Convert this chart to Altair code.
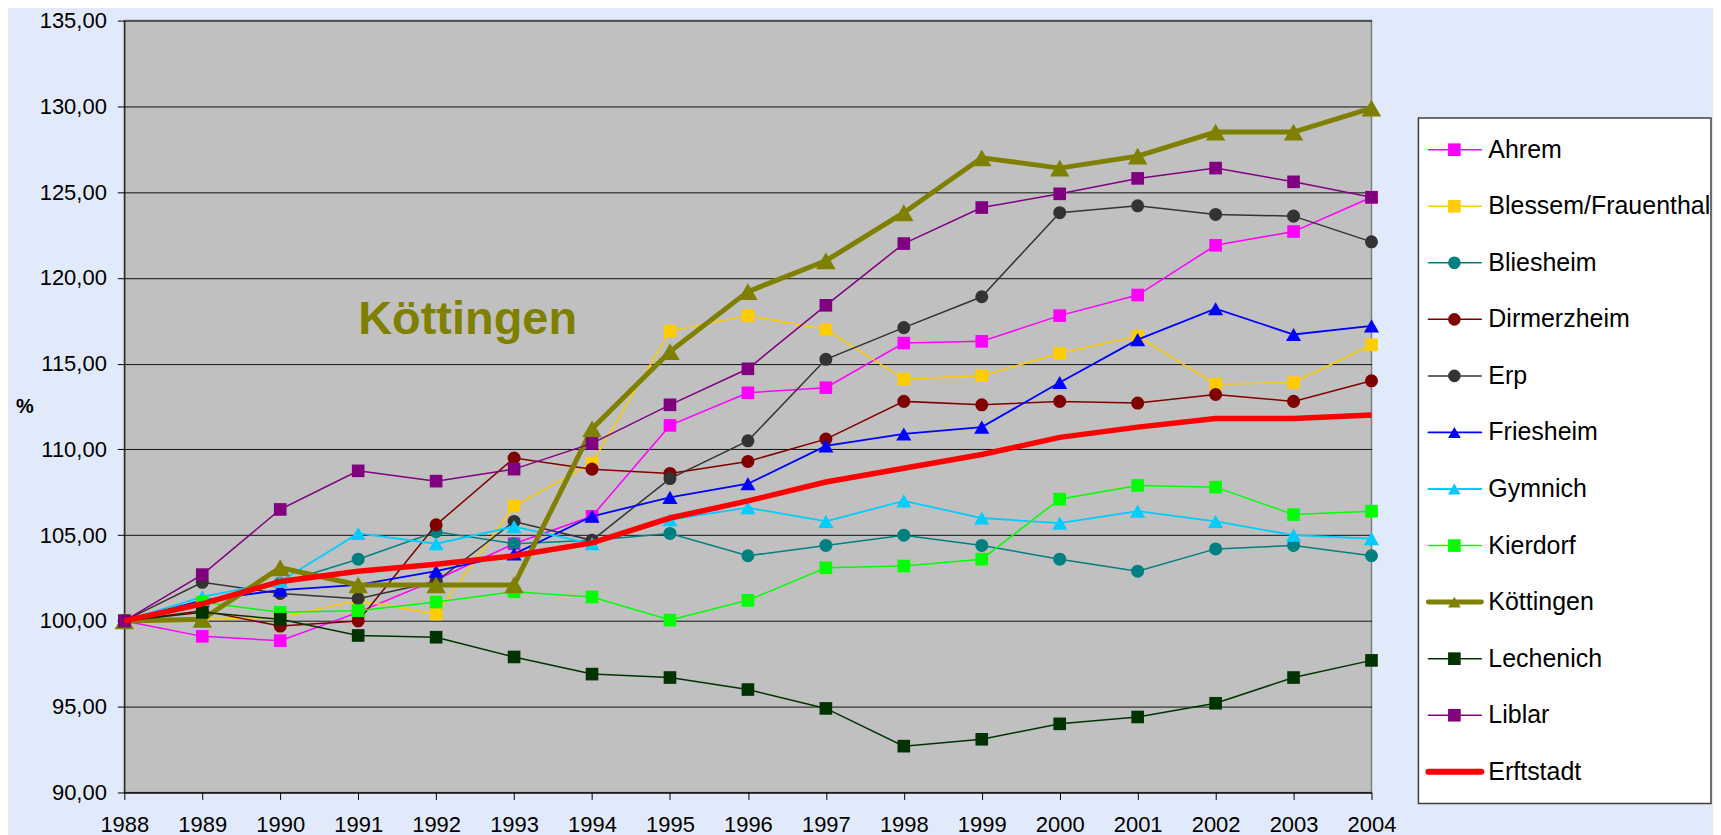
import altair as alt
import pandas as pd

years = list(range(1988, 2005))

names = ["Ahrem", "Blessem/Frauenthal", "Bliesheim", "Dirmerzheim", "Erp", "Friesheim",
         "Gymnich", "Kierdorf", "Köttingen", "Lechenich", "Liblar", "Erftstadt"]

ahrem = [100, 99.1, 98.85, 100.5, 102.4, 104.5, 106.1, 111.4, 113.3, 113.6, 116.2, 116.3, 117.8, 119.0, 121.9, 122.7, 124.7]
blessem = [100, 100.1, 100.2, 101.2, 100.4, 106.7, 109.2, 116.9, 117.8, 117.0, 114.1, 114.3, 115.6, 116.6, 113.8, 113.9, 116.1]
bliesheim = [100, 100.9, 102.2, 103.6, 105.2, 104.5, 104.7, 105.1, 103.8, 104.4, 105.0, 104.4, 103.6, 102.9, 104.2, 104.4, 103.8]
dirmerzheim = [100, 100.6, 99.7, 100.0, 105.6, 109.5, 108.85, 108.6, 109.3, 110.6, 112.8, 112.6, 112.8, 112.7, 113.2, 112.8, 114.0]
erp = [100, 102.25, 101.6, 101.3, 102.3, 105.8, 104.7, 108.3, 110.5, 115.25, 117.1, 118.9, 123.8, 124.2, 123.7, 123.6, 122.1]
friesheim = [100, 101.2, 101.8, 102.1, 102.9, 103.9, 106.1, 107.2, 108.0, 110.2, 110.9, 111.3, 113.9, 116.4, 118.2, 116.7, 117.2]
gymnich = [100, 101.4, 102.3, 105.1, 104.5, 105.5, 104.5, 105.9, 106.6, 105.8, 107.0, 106.0, 105.7, 106.4, 105.8, 105.0, 104.8]
kierdorf = [100, 101.1, 100.5, 100.6, 101.1, 101.7, 101.4, 100.05, 101.2, 103.1, 103.2, 103.6, 107.1, 107.9, 107.8, 106.2, 106.4]
koettingen = [100, 100.1, 103.1, 102.1, 102.1, 102.1, 111.2, 115.7, 119.2, 121.0, 123.8, 127.0, 126.4, 127.1, 128.5, 128.5, 129.9]
lechenich = [100, 100.5, 100.1, 99.15, 99.05, 97.9, 96.9, 96.7, 96.0, 94.9, 92.7, 93.1, 94.0, 94.4, 95.2, 96.7, 97.7]
liblar = [100, 102.7, 106.5, 108.75, 108.15, 108.85, 110.35, 112.6, 114.7, 118.4, 122.0, 124.1, 124.9, 125.8, 126.4, 125.6, 124.7]
erftstadt = [100, 101.0, 102.3, 102.9, 103.3, 103.8, 104.55, 106.0, 107.0, 108.1, 108.9, 109.7, 110.7, 111.3, 111.8, 111.8, 112.0]

series = [ahrem, blessem, bliesheim, dirmerzheim, erp, friesheim, gymnich, kierdorf,
          koettingen, lechenich, liblar, erftstadt]

y_ticks = [90, 95, 100, 105, 110, 115, 120, 125, 130, 135]

# styles
colors = ["#FF00FF", "#FFCC00", "#008080", "#800000", "#333333", "#0000FF",
          "#00CCFF", "#00FF00", "#808000", "#003300", "#800080", "#FF0000"]
shapes = ["square", "square", "circle", "circle", "circle", "triangle-up",
          "triangle-up", "square", "triangle-up", "square", "square", None]
sizes = [160, 160, 170, 170, 170, 230, 230, 160, 380, 160, 160, 0]
widths = [1.5, 1.5, 1.5, 1.5, 1.5, 1.8, 1.8, 1.5, 5, 1.5, 1.5, 5.5]
legend_widths = [1.5, 1.5, 1.5, 1.5, 1.5, 1.8, 1.8, 1.5, 5, 1.5, 1.5, 6]
legend_sizes = [160, 160, 170, 170, 170, 200, 200, 160, 230, 160, 160, 0]

FONT = "Liberation Sans"

rows = []
for n, vals in zip(names, series):
    for yr, v in zip(years, vals):
        rows.append({"name": n, "year": yr, "value": v})
df = pd.DataFrame(rows)

x_enc = alt.X("year:Q",
              scale=alt.Scale(domain=[1988, 2004], nice=False, zero=False),
              axis=alt.Axis(values=years, format="d", grid=False, tickSize=7,
                            labelPadding=15, labelFontSize=22, labelFont=FONT,
                            labelFlush=False, labelOverlap=False,
                            labelColor="black", domainColor="black", tickColor="black",
                            title=None))
y_enc = alt.Y("value:Q",
              scale=alt.Scale(domain=[90, 135], nice=False, zero=False),
              axis=alt.Axis(values=y_ticks,
                            labelExpr="replace(format(datum.value, '.2f'), '.', ',')",
                            grid=True, gridColor="black", gridWidth=1, gridOpacity=0.9,
                            tickSize=7, labelPadding=11, labelFontSize=22, labelFont=FONT,
                            labelFlush=False,
                            labelColor="black", domainColor="black", tickColor="black",
                            title="%", titleAngle=0, titleX=-100, titleY=386,
                            titleAlign="center", titleBaseline="middle",
                            titleFontWeight="bold", titleFontSize=20, titleFont=FONT,
                            titleColor="black"))

base = alt.Chart(df)
layers = []
for i, n in enumerate(names):
    sub = base.transform_filter(alt.datum.name == n)
    layers.append(sub.mark_line(color=colors[i], strokeWidth=widths[i]).encode(x=x_enc, y=y_enc))
    if shapes[i]:
        layers.append(sub.mark_point(filled=True, opacity=1, color=colors[i], shape=shapes[i],
                                     size=sizes[i]).encode(x=x_enc, y=y_enc))

annot = pd.DataFrame({"label": ["Köttingen"]})
layers.append(alt.Chart(annot).mark_text(font=FONT, fontSize=47, fontWeight="bold",
                                         color="#808000", align="left",
                                         baseline="alphabetic").encode(
    x=alt.datum(1991.0), y=alt.datum(116.7), text="label:N"))

main = alt.layer(*layers).properties(
    width=1249, height=773,
    view=alt.ViewBackground(fill="#C0C0C0", stroke="#808080", strokeWidth=1.5))

# manual legend
leg_df = pd.DataFrame({"name": names, "idx": list(range(len(names))), "w": legend_widths})
ly = alt.Y("idx:Q", scale=alt.Scale(domain=[-2.283, 11.56], reverse=True, nice=False, zero=False),
           axis=None)
cscale = alt.Scale(domain=names, range=colors)
mk = [n for n, s in zip(names, shapes) if s]
sscale = alt.Scale(domain=mk, range=[s for s in shapes if s])
zscale = alt.Scale(domain=mk, range=[z for z, s in zip(legend_sizes, shapes) if s])

leg_base = alt.Chart(leg_df)
box = alt.Chart(pd.DataFrame({"b": [0]})).mark_rect(fill="white", stroke="#404040",
                                                     strokeWidth=1.5).encode(
    x=alt.value(0), x2=alt.value(293),
    y=alt.Y("y0:Q", scale=alt.Scale(domain=[-2.283, 11.56], reverse=True, nice=False, zero=False), axis=None),
    y2="y1:Q").transform_calculate(y0="-0.56", y1="11.56")
lrules = leg_base.mark_rule(strokeCap="round").encode(
    x=alt.value(10), x2=alt.value(63), y=ly,
    color=alt.Color("name:N", scale=cscale, legend=None),
    strokeWidth=alt.StrokeWidth("w:Q", scale=None, legend=None))
lpts = leg_base.transform_filter(alt.FieldOneOfPredicate(field="name", oneOf=mk)).mark_point(
    filled=True, opacity=1).encode(
    x=alt.value(36), y=ly,
    color=alt.Color("name:N", scale=cscale, legend=None),
    shape=alt.Shape("name:N", scale=sscale, legend=None),
    size=alt.Size("name:N", scale=zscale, legend=None))
ltext = leg_base.mark_text(font=FONT, fontSize=25, align="left", baseline="middle",
                           color="black").encode(
    x=alt.value(70), y=ly, text="name:N")

legend = alt.layer(box, lrules, lpts, ltext).properties(
    width=293, height=784,
    view=alt.ViewBackground(fill="transparent", stroke="transparent"))

chart = alt.hconcat(main, legend, spacing=47, bounds="flush").properties(
    padding={"left": 6.5, "top": 0, "right": 0, "bottom": 0},
    background="#E0EAFA",
).configure_view(strokeWidth=1.5)

chart.save("out.html", embed_options={"renderer": "svg", "actions": False})
